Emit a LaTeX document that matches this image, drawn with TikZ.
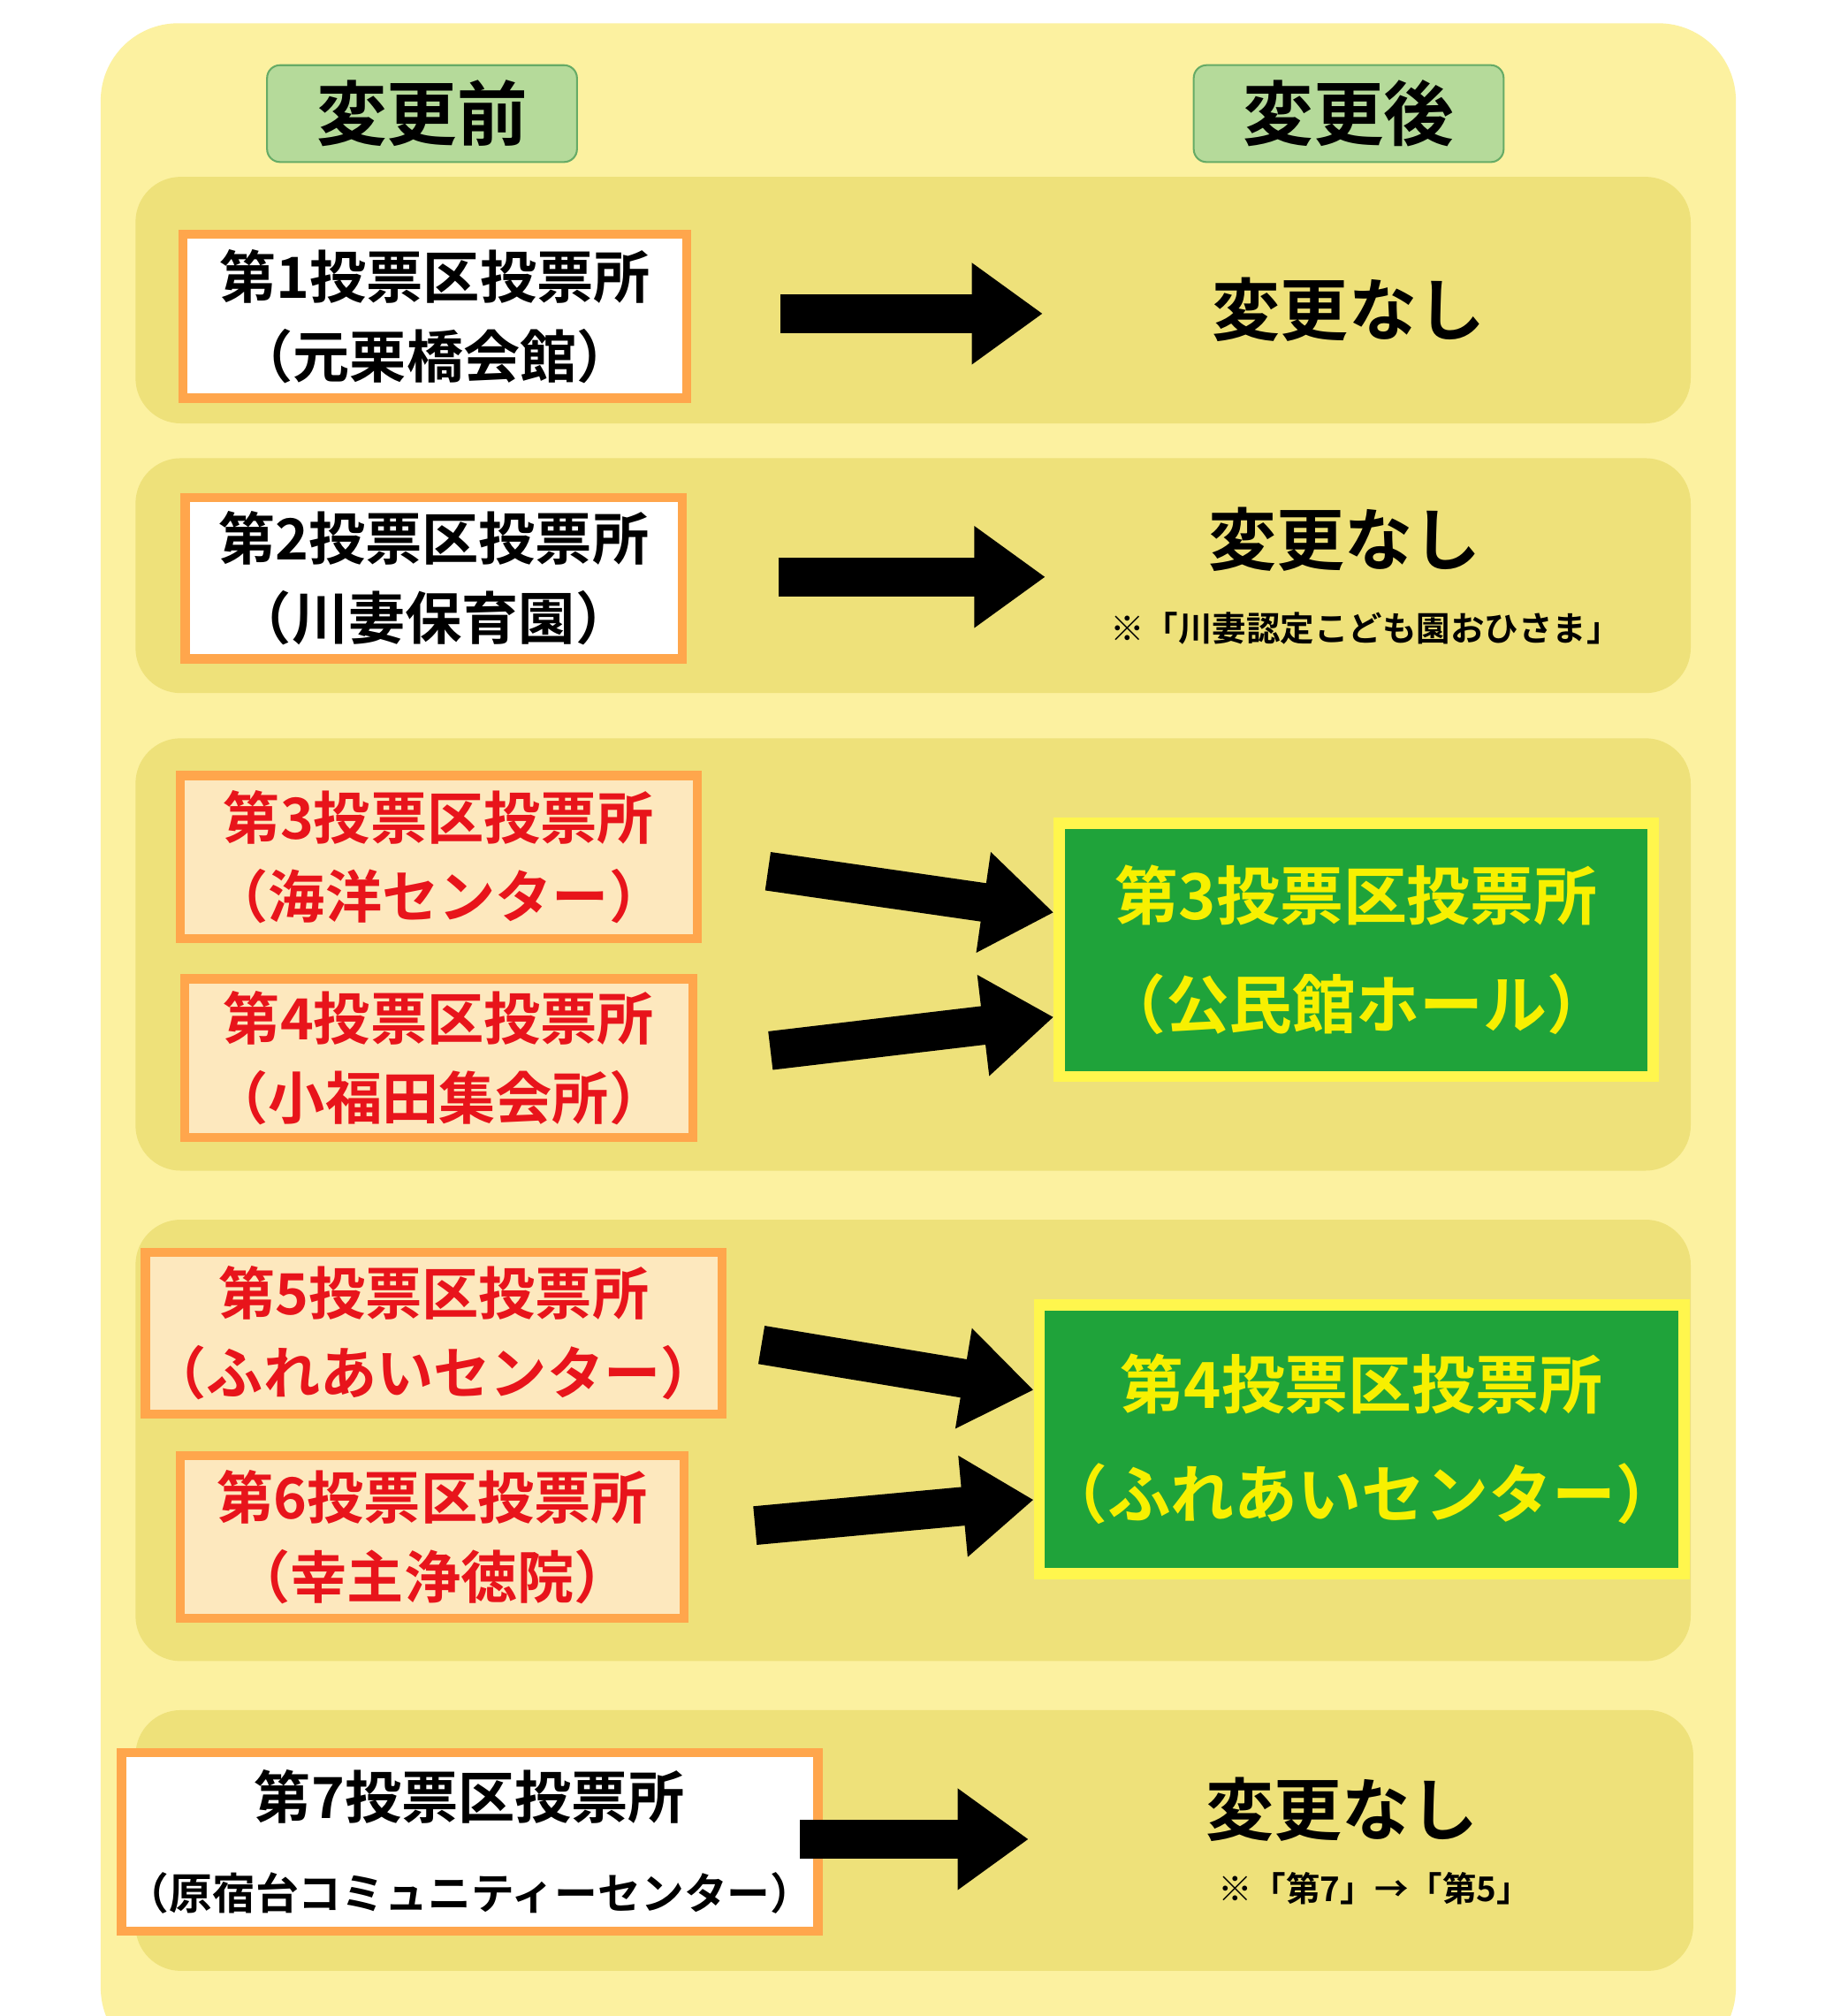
\documentclass[tikz,border=0pt]{standalone}
\usepackage{fontspec}
\setmainfont{Noto Sans CJK JP Bold}
\usetikzlibrary{arrows.meta}
\definecolor{paleyel}{HTML}{FCF1A0}
\definecolor{bandyel}{HTML}{EEE17A}
\definecolor{hdrgreen}{HTML}{B5DA9A}
\definecolor{boxgreen}{HTML}{1FA33A}
\definecolor{oldbox}{HTML}{FDE8BE}
\definecolor{oldred}{HTML}{E8141B}
\definecolor{txtyel}{HTML}{F7F000}
\tikzset{
  band/.style={fill=bandyel, rounded corners=0.35cm},
  header/.style={draw=green!45!black!60, fill=hdrgreen, rounded corners=0.1cm, minimum width=2.4cm, minimum height=0.75cm, font=\fontsize{15.5}{18}\selectfont},
  oldplace/.style={draw=orange!70, line width=2pt, fill=white, align=center, inner sep=1pt, font=\fontsize{12.5}{17.5}\selectfont},
  moved/.style={oldplace, fill=oldbox, text=oldred},
  newplace/.style={draw=yellow!70, line width=2.5pt, fill=boxgreen, text=txtyel, align=center, inner sep=1pt, font=\fontsize{14}{24}\selectfont},
  keep/.style={font=\fontsize{15}{18}\selectfont},
  note/.style={font=\fontsize{7.5}{9}\selectfont},
  bigarrow/.style={line width=0.3cm, -{Triangle[length=0.55cm,width=0.75cm]}}
}
\begin{document}
\begin{tikzpicture}[x=0.01cm,y=-0.01cm]
      \useasboundingbox (0,0) rectangle (1420,1562);
      \fill[white] (0,0) rectangle (1420,1562);
      % Background
      \fill[paleyel, rounded corners=0.6cm] (78,18) rectangle (1345,1600);
      \node[header] (before) at (327,88) {変更前};
      \node[header] (after) at (1045,88) {変更後};
      % Bands
      \fill[band] (105,137) rectangle (1310,328);
      \fill[band] (105,355) rectangle (1310,537);
      \fill[band] (105,572) rectangle (1310,907);
      \fill[band] (105,945) rectangle (1310,1287);
      \fill[band] (105,1325) rectangle (1312,1527);
      % Row 1
      \node[oldplace, minimum width=3.9cm, minimum height=1.27cm] (p1) at (337,245) {第1投票区投票所\\（元栗橋会館）};
      \node[keep] (k1) at (1045,240) {変更なし};
      \coordinate (a1s) at (605,243); \coordinate (a1e) at (808,243);
      \draw[bigarrow] (a1s) -- (a1e);
      % Row 2
      \node[oldplace, minimum width=3.85cm, minimum height=1.25cm] (p2) at (336,448) {第2投票区投票所\\（川妻保育園）};
      \node[keep] (k2) at (1042,418) {変更なし};
      \node[note] (n2) at (1058,487) {※「川妻認定こども園おひさま」};
      \coordinate (a2s) at (603,447); \coordinate (a2e) at (810,447);
      \draw[bigarrow] (a2s) -- (a2e);
      % Row 3-4
      \node[moved, minimum width=4cm, minimum height=1.26cm] (p3) at (340,664) {第3投票区投票所\\（海洋センター）};
      \node[moved, minimum width=3.94cm, minimum height=1.23cm] (p4) at (340,820) {第4投票区投票所\\（小福田集会所）};
      \node[newplace, minimum width=4.6cm, minimum height=1.96cm] (q3) at (1051,736) {第3投票区投票所\\（公民館ホール）};
      \coordinate (a3s) at (595,675); \coordinate (a4s) at (597,814);
      \draw[bigarrow] (a3s) -- (q3.west |- 0,707);
      \draw[bigarrow] (a4s) -- (q3.west |- 0,788);
      % Row 5-6
      \node[moved, minimum width=4.07cm, minimum height=1.25cm] (p5) at (336,1033) {第5投票区投票所\\（ふれあいセンター）};
      \node[moved, minimum width=3.9cm, minimum height=1.26cm] (p6) at (335,1191) {第6投票区投票所\\（幸主浄徳院）};
      \node[newplace, minimum width=4.82cm, minimum height=2.08cm] (q4) at (1055,1115) {第4投票区投票所\\（ふれあいセンター）};
      \coordinate (a5s) at (590,1042); \coordinate (a6s) at (585,1182);
      \draw[bigarrow] (a5s) -- (q4.west |- 0,1077);
      \draw[bigarrow] (a6s) -- (q4.west |- 0,1162);
      % Row 7
      \node[oldplace, minimum width=4.8cm, minimum height=1.38cm, font=\fontsize{12.5}{20}\selectfont] (p7) at (364,1427) {第7投票区投票所\\{\fontsize{9.5}{11}\selectfont（原宿台コミュニティーセンター）}};
      \node[keep] (k7) at (1040,1402) {変更なし};
      \node[note] (n7) at (1065,1463) {※「第7」→「第5」};
      \coordinate (a7s) at (620,1425); \coordinate (a7e) at (797,1425);
      \draw[bigarrow] (a7s) -- (a7e);
\end{tikzpicture}
\end{document}
